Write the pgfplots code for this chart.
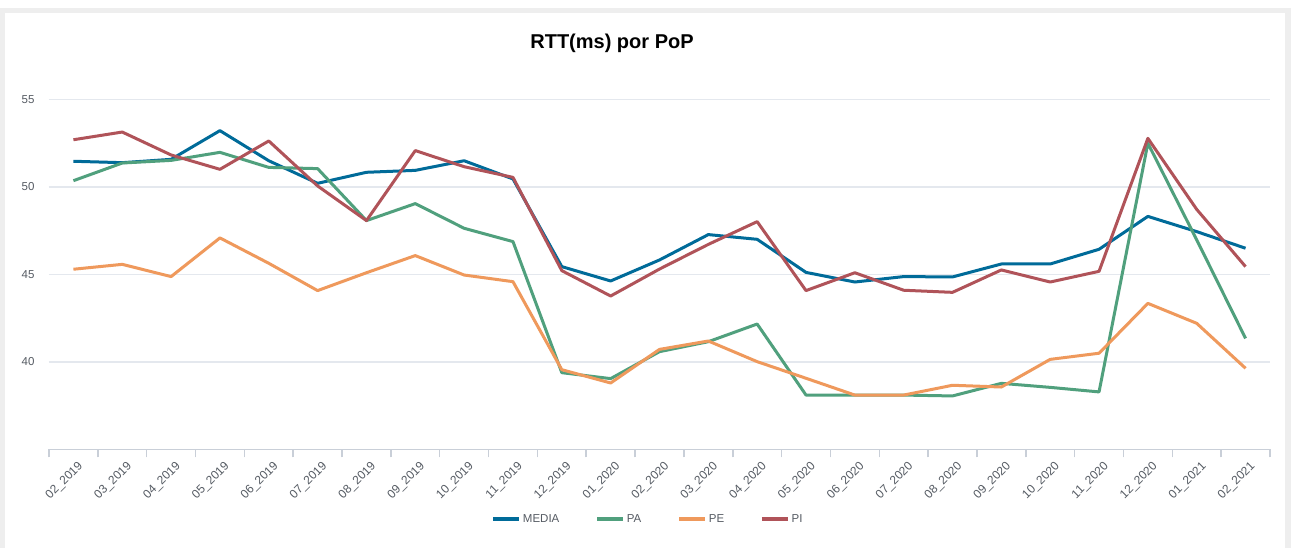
\documentclass[border=0pt]{standalone}
\usepackage{pgfplots}
\pgfplotsset{compat=1.18}
\usepackage{fontspec}
\setmainfont{Liberation Sans}
\definecolor{cMEDIA}{HTML}{006B99}
\definecolor{cPA}{HTML}{50A07D}
\definecolor{cPE}{HTML}{EF995C}
\definecolor{cPI}{HTML}{B05359}
\definecolor{gridc}{HTML}{E4E8EE}
\definecolor{axisc}{HTML}{C9CFD8}
\definecolor{labc}{HTML}{555B63}
\definecolor{framec}{HTML}{EEEEEE}
\begin{document}
\begin{tikzpicture}[x=1pt,y=1pt]
\path[use as bounding box] (0,0) rectangle (1291,548);
\fill[white] (0,0) rectangle (1291,548);
\fill[framec] (0,0) rectangle (1291,540);
\fill[white] (4.5,0) rectangle (1284.5,535);
\node[font=\bfseries\fontsize{20}{24}\selectfont, text=black] at (612,505) {RTT(ms) por PoP};
\begin{axis}[
  at={(49pt,98.5pt)}, anchor=south west,
  scale only axis, width=1221pt, height=385pt,
  xmin=-0.5, xmax=24.5, ymin=35, ymax=57,
  axis x line*=bottom, axis y line*=left,
  y axis line style={draw=none},
  x axis line style={draw=axisc, line width=1.5pt},
  xtick={0,...,24},
  xticklabels={02\_2019,03\_2019,04\_2019,05\_2019,06\_2019,07\_2019,08\_2019,09\_2019,10\_2019,11\_2019,12\_2019,01\_2020,02\_2020,03\_2020,04\_2020,05\_2020,06\_2020,07\_2020,08\_2020,09\_2020,10\_2020,11\_2020,12\_2020,01\_2021,02\_2021},
  major x tick style={draw=none},
  minor xtick={-0.5,0.5,...,24.5},
  minor x tick style={draw=axisc, line width=1.5pt},
  minor tick length=8pt,
  tick align=outside,
  xticklabel style={rotate=45, anchor=east, inner sep=0pt, xshift=-2pt, yshift=-13pt, font=\fontsize{12}{14}\selectfont, text=labc},
  ytick={40,45,50,55},
  ymajorgrids, grid style={draw=gridc, line width=1.5pt},
  major y tick style={draw=none},
  yticklabel style={font=\fontsize{11.5}{13}\selectfont, text=labc, inner sep=0pt, xshift=-10pt},
  /pgf/number format/assume math mode=true,
  clip=false,
  legend columns=4,
  legend style={at={(0.4906,-0.1805)}, anchor=center, draw=none, fill=none,
    font=\fontsize{11.5}{13}\selectfont, text=labc,
    /tikz/every even column/.append style={column sep=34pt}},
  legend image code/.code={\draw[#1, line width=3.5pt] (0pt,0pt) -- (26pt,0pt);},
  every axis plot/.append style={line width=3pt, line join=round, mark=none},
]
\addplot[cMEDIA] coordinates {(0,51.47)(1,51.39)(2,51.58)(3,53.22)(4,51.5)(5,50.21)(6,50.84)(7,50.95)(8,51.5)(9,50.46)(10,45.45)(11,44.63)(12,45.83)(13,47.28)(14,47.01)(15,45.12)(16,44.57)(17,44.88)(18,44.86)(19,45.6)(20,45.6)(21,46.44)(22,48.32)(23,47.45)(24,46.5)};
\addlegendentry{MEDIA}
\addplot[cPA] coordinates {(0,50.36)(1,51.37)(2,51.52)(3,51.98)(4,51.12)(5,51.05)(6,48.08)(7,49.05)(8,47.64)(9,46.88)(10,39.39)(11,39.05)(12,40.59)(13,41.16)(14,42.17)(15,38.11)(16,38.11)(17,38.11)(18,38.06)(19,38.78)(20,38.55)(21,38.29)(22,52.5)(23,46.98)(24,41.35)};
\addlegendentry{PA}
\addplot[cPE] coordinates {(0,45.3)(1,45.58)(2,44.88)(3,47.09)(4,45.64)(5,44.08)(6,45.1)(7,46.08)(8,44.97)(9,44.59)(10,39.56)(11,38.8)(12,40.72)(13,41.2)(14,40.02)(15,39.07)(16,38.11)(17,38.11)(18,38.67)(19,38.57)(20,40.15)(21,40.5)(22,43.35)(23,42.21)(24,39.64)};
\addlegendentry{PE}
\addplot[cPI] coordinates {(0,52.7)(1,53.14)(2,51.83)(3,51.01)(4,52.63)(5,50.06)(6,48.08)(7,52.08)(8,51.16)(9,50.55)(10,45.22)(11,43.77)(12,45.31)(13,46.72)(14,48.02)(15,44.08)(16,45.1)(17,44.1)(18,43.98)(19,45.26)(20,44.57)(21,45.18)(22,52.78)(23,48.72)(24,45.45)};
\addlegendentry{PI}
\end{axis}
\end{tikzpicture}
\end{document}
